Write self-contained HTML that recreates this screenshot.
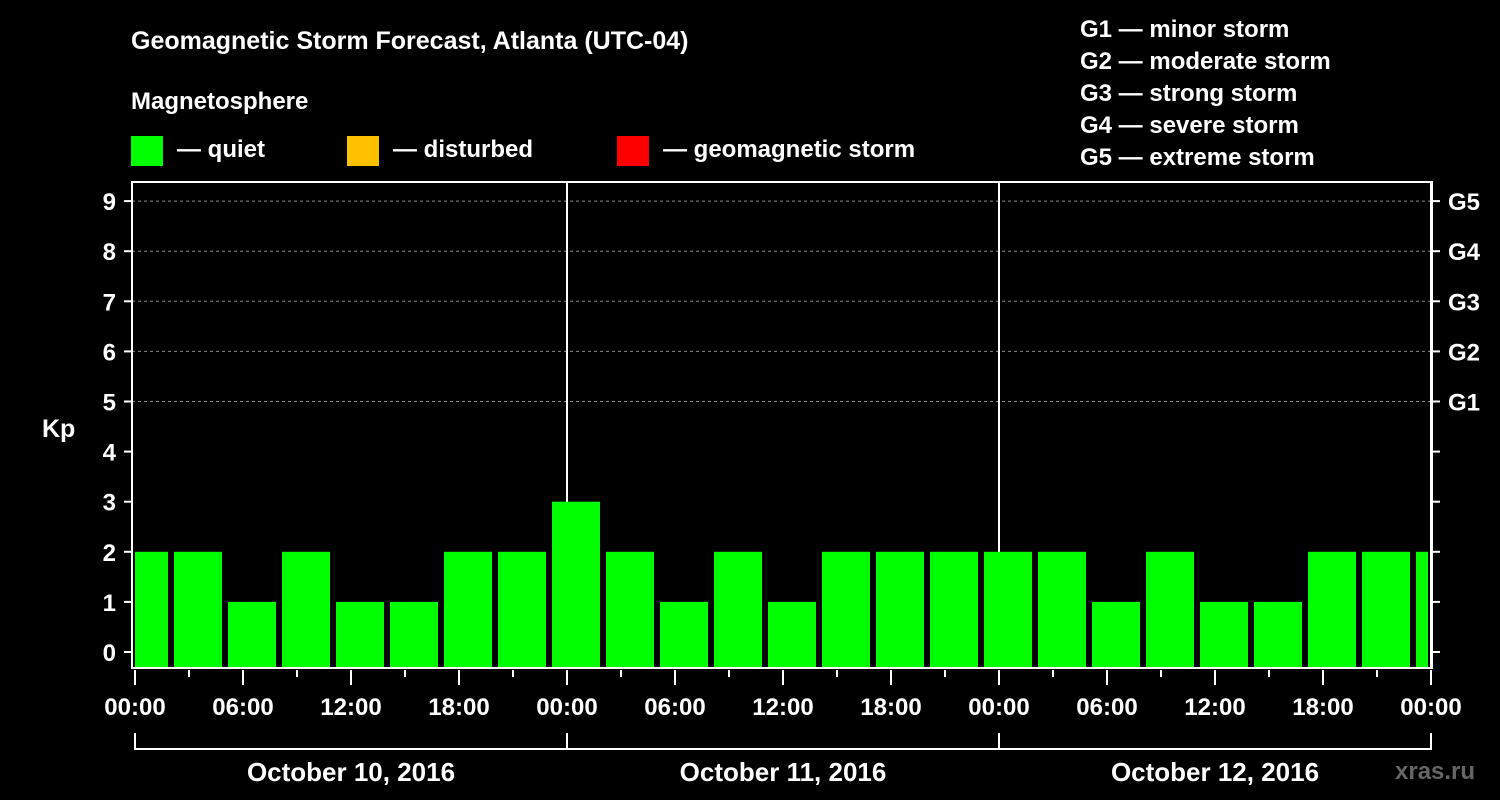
<!DOCTYPE html>
<html><head><meta charset="utf-8"><style>
body{margin:0;background:#000;}
svg{display:block;font-family:"Liberation Sans",sans-serif;font-weight:bold;}
</style></head><body>
<svg id="c" width="1500" height="800" viewBox="0 0 1500 800">
<text x="131" y="49" fill="#fff" font-size="25">Geomagnetic Storm Forecast, Atlanta (UTC-04)</text>
<text x="131" y="109" fill="#fff" font-size="24">Magnetosphere</text>
<g><rect x="131" y="136" width="32" height="30" fill="#00ff00"/><text x="177" y="157" fill="#fff" font-size="24">— quiet</text></g>
<g><rect x="347" y="136" width="32" height="30" fill="#ffc000"/><text x="393" y="157" fill="#fff" font-size="24">— disturbed</text></g>
<g><rect x="617" y="136" width="32" height="30" fill="#ff0000"/><text x="663" y="157" fill="#fff" font-size="24">— geomagnetic storm</text></g>
<g fill="#fff" font-size="24">
<text x="1080" y="37">G1 — minor storm</text><text x="1080" y="69">G2 — moderate storm</text><text x="1080" y="101">G3 — strong storm</text><text x="1080" y="133">G4 — severe storm</text><text x="1080" y="165">G5 — extreme storm</text></g>
<text x="42" y="437" fill="#fff" font-size="25">Kp</text>
<text x="1395" y="779" fill="#666" font-size="24">xras.ru</text>
<g id="grid"></g><g id="bars"></g><g id="axes"></g>
</svg>
<script>
const kpValues=[2,2,1,2,1,1,2,2,3,2,1,2,1,2,2,2,2,2,1,2,1,1,2,2,2];
const barStartHours=[-1,2,5,8,11,14,17,20,23,26,29,32,35,38,41,44,47,50,53,56,59,62,65,68,71];
const yTicks=[0,1,2,3,4,5,6,7,8,9];
const gLabels=["","","","","","G1","G2","G3","G4","G5"];
const dayLabels=["October 10, 2016","October 11, 2016","October 12, 2016"];
const hourLabels=["00:00","06:00","12:00","18:00"];
const NS="http://www.w3.org/2000/svg";
const X0=135,PX=18,PL=132,PR=1432,PT=182,PB=668;
const x=h=>X0+h*PX, y=v=>652-v*50.1;
function mk(t,a,p,txt){const e=document.createElementNS(NS,t);for(const k in a)e.setAttribute(k,a[k]);if(txt!=null)e.textContent=txt;p.appendChild(e);return e;}
const G=document.getElementById('grid'),B=document.getElementById('bars'),A=document.getElementById('axes');
yTicks.forEach((v,i)=>{
 if(v>=5){const l=mk('line',{x1:PL,x2:PR,y1:y(v),y2:y(v),stroke:'#888','stroke-dasharray':'3,3'},G);
 }
 const t=mk('text',{x:116,y:y(v)+9,fill:'#fff','font-size':24,'text-anchor':'end'},A,String(v));
 
 mk('line',{x1:PL-8,x2:PL,y1:y(v),y2:y(v),stroke:'#fff','stroke-width':2},A);
 mk('line',{x1:PR,x2:PR+8,y1:y(v),y2:y(v),stroke:'#fff','stroke-width':2},A);
 if(gLabels[i]){const g=mk('text',{x:1448,y:y(v)+9,fill:'#fff','font-size':24},A,gLabels[i]);
 }
});
const clip=mk('clipPath',{id:'pc'},B);mk('rect',{x:PL+3,y:PT,width:PR-PL-7,height:PB-PT},clip);
kpValues.forEach((v,i)=>{
 const h=barStartHours[i];
 const r=mk('rect',{x:x(h)+3,y:y(v),width:3*PX-6,height:PB-y(v),fill:v>=5?'#ff0000':(v>=4?'#ffc000':'#00ff00'),'clip-path':'url(#pc)'},B);
 
});
for(let d=0;d<=2;d++){mk('line',{x1:x(24*d+24),x2:x(24*d+24),y1:PT,y2:PB,stroke:'#fff','stroke-width':2},G);}
const f=mk('rect',{x:PL,y:PT,width:PR-PL,height:PB-PT,fill:'none',stroke:'#fff','stroke-width':2},A);

for(let h=0;h<=72;h+=3){mk('line',{x1:x(h),x2:x(h),y1:PB+2,y2:PB+(h%6?9:17),stroke:'#fff','stroke-width':2},A);
 if(h%6==0){const t=mk('text',{x:x(h),y:715,fill:'#fff','font-size':24,'text-anchor':'middle'},A,hourLabels[(h%24)/6]);
 }}
mk('line',{x1:x(0),x2:x(72),y1:749,y2:749,stroke:'#fff','stroke-width':2},A);
for(let d=0;d<=3;d++)mk('line',{x1:x(24*d),x2:x(24*d),y1:733,y2:750,stroke:'#fff','stroke-width':2},A);
dayLabels.forEach((s,d)=>{const t=mk('text',{x:x(24*d+12),y:781,fill:'#fff','font-size':26,'text-anchor':'middle'},A,s);
 });
</script>
</body></html>
